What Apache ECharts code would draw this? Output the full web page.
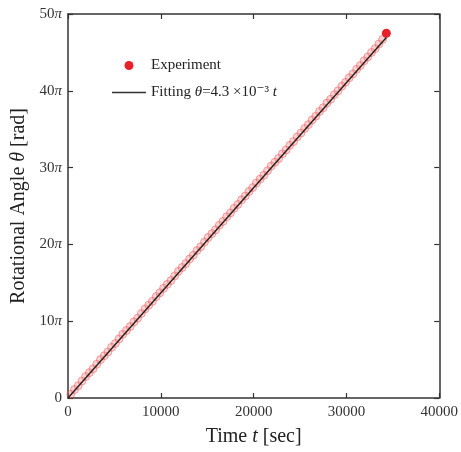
<!DOCTYPE html>
<html>
<head>
<meta charset="utf-8">
<script src="https://cdn.jsdelivr.net/npm/echarts@6/dist/echarts.min.js"></script>
<style>
html, body { margin: 0; padding: 0; background: #fff; }
#main { width: 461px; height: 452px; }
</style>
</head>
<body>
<div id="main"></div>
<script>
// experiment: time [sec] and angle [in units of pi]
var expT = [300, 700, 1100, 1500, 1900, 2300, 2700, 3100, 3500, 3900, 4300, 4700, 5100, 5500, 5900,
  6300, 6700, 7100, 7500, 7900, 8300, 8700, 9100, 9500, 9900, 10300, 10700, 11100, 11500, 11900,
  12300, 12700, 13100, 13500, 13900, 14300, 14700, 15100, 15500, 15900, 16300, 16700, 17100, 17500,
  17900, 18300, 18700, 19100, 19500, 19900, 20300, 20700, 21100, 21500, 21900, 22300, 22700, 23100,
  23500, 23900, 24300, 24700, 25100, 25500, 25900, 26300, 26700, 27100, 27500, 27900, 28300, 28700,
  29100, 29500, 29900, 30300, 30700, 31100, 31500, 31900, 32300, 32700, 33100, 33500, 33900];
var expTheta = [0.5, 1.1, 1.6, 2.2, 2.8, 3.3, 3.8, 4.4, 5.0, 5.5, 6.0, 6.6, 7.1, 7.7, 8.3,
  8.8, 9.3, 9.9, 10.4, 11.0, 11.6, 12.1, 12.6, 13.2, 13.7, 14.3, 14.8, 15.3, 15.9, 16.5,
  17.0, 17.5, 18.1, 18.6, 19.2, 19.7, 20.3, 20.9, 21.4, 21.9, 22.5, 23.0, 23.6, 24.1,
  24.7, 25.2, 25.8, 26.3, 26.9, 27.4, 28.0, 28.5, 29.0, 29.6, 30.2, 30.7, 31.2, 31.8,
  32.3, 32.9, 33.4, 34.0, 34.5, 35.1, 35.6, 36.2, 36.7, 37.3, 37.8, 38.4, 38.9, 39.5,
  40.0, 40.6, 41.1, 41.7, 42.2, 42.8, 43.3, 43.9, 44.4, 45.0, 45.5, 46.1, 46.7];
var lastT = 34300;
var lastTheta = 47.5;
// fitting theta = 4.3e-3 t  (converted to pi units)
var fitT = [0, 34300];
var fitTheta = [0, 46.95];

var serif = '"Liberation Serif", "DejaVu Serif", serif';
var expData = expT.map(function (t, i) { return [t, expTheta[i]]; });
expData.push({
  value: [lastT, lastTheta],
  symbolSize: 9,
  itemStyle: { color: '#e8202a', borderWidth: 0, opacity: 1 }
});
var fitData = fitT.map(function (t, i) { return [t, fitTheta[i]]; });

var myChart = echarts.init(document.getElementById('main'));
var axisColor = '#333';
function ticks() {
  return { show: true, inside: true, length: 5, lineStyle: { color: axisColor, width: 1.2 } };
}
function line() {
  return { show: true, onZero: false, lineStyle: { color: axisColor, width: 1.5 } };
}
var nameRich = {
  n: { fontFamily: serif, fontSize: 20, color: '#222' },
  it: { fontFamily: serif, fontSize: 20, fontStyle: 'italic', color: '#222' }
};

myChart.setOption({
  animation: false,
  grid: { left: 68, top: 14, right: 20, bottom: 50 },
  legend: {
    orient: 'vertical',
    left: 107,
    top: 53,
    itemGap: 12,
    itemWidth: 34,
    itemHeight: 9,
    data: [
      { name: 'Experiment', icon: 'circle', itemStyle: { color: '#e8202a', borderWidth: 0, opacity: 1 } },
      { name: 'Fitting', icon: 'path://M0,0h34v1.6h-34z', itemStyle: { color: '#333' } }
    ],
    formatter: function (name) {
      if (name === 'Fitting') {
        return 'Fitting {it|θ}=4.3 ×10⁻³ {it|t}';
      }
      return name;
    },
    textStyle: {
      fontFamily: serif, fontSize: 15, color: '#222',
      rich: { it: { fontFamily: serif, fontSize: 15, fontStyle: 'italic', color: '#222' } }
    }
  },
  xAxis: [
    {
      type: 'value', min: 0, max: 40000, interval: 10000,
      name: '{n|Time }{it|t}{n| [sec]}', nameLocation: 'middle', nameGap: 29,
      nameTextStyle: { rich: nameRich },
      axisLine: line(),
      axisTick: ticks(),
      splitLine: { show: false },
      axisLabel: {
        fontFamily: serif, fontSize: 15, color: '#333', margin: 7,
        formatter: function (v) { return String(v); }
      }
    },
    {
      type: 'value', position: 'top', min: 0, max: 40000, interval: 10000,
      axisLine: line(),
      axisTick: ticks(),
      splitLine: { show: false },
      axisLabel: { show: false }
    }
  ],
  yAxis: [
    {
      type: 'value', min: 0, max: 50, interval: 10,
      name: '{n|Rotational Angle }{it|θ}{n| [rad]}', nameLocation: 'middle', nameGap: 36,
      nameTextStyle: { rich: nameRich },
      axisLine: line(),
      axisTick: ticks(),
      splitLine: { show: false },
      axisLabel: {
        margin: 6,
        formatter: function (v) { return v === 0 ? '{n|0}' : '{n|' + v + '}{it|π}'; },
        rich: {
          n: { fontFamily: serif, fontSize: 15, color: '#333' },
          it: { fontFamily: serif, fontSize: 15, fontStyle: 'italic', color: '#333' }
        }
      }
    },
    {
      type: 'value', position: 'right', min: 0, max: 50, interval: 10,
      axisLine: line(),
      axisTick: ticks(),
      splitLine: { show: false },
      axisLabel: { show: false }
    }
  ],
  series: [
    {
      name: 'Experiment',
      type: 'scatter',
      symbol: 'circle',
      symbolSize: 8,
      itemStyle: {
        color: 'rgba(245, 130, 130, 0.45)',
        borderColor: 'rgba(235, 50, 50, 0.6)',
        borderWidth: 0.8
      },
      data: expData,
      z: 2
    },
    {
      name: 'Fitting',
      type: 'line',
      showSymbol: false,
      symbol: 'none',
      lineStyle: { color: '#222', width: 1.4 },
      itemStyle: { color: '#333' },
      data: fitData,
      z: 3
    }
  ]
});
</script>
</body>
</html>
